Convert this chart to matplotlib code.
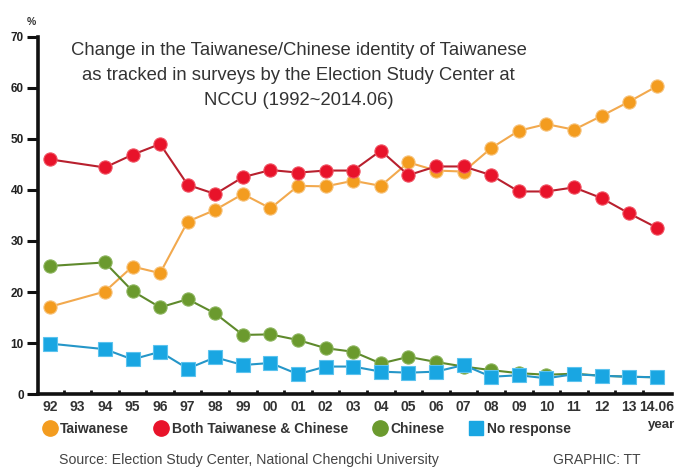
import matplotlib.pyplot as plt
from matplotlib.lines import Line2D
from matplotlib.ticker import FixedLocator

plt.rcParams["font.family"] = ["Liberation Sans", "DejaVu Sans"]

# survey years (1993 has no survey)
years = [1992, 1994, 1995, 1996, 1997, 1998, 1999, 2000, 2001, 2002, 2003,
         2004, 2005, 2006, 2007, 2008, 2009, 2010, 2011, 2012, 2013, 2014]
tick_years = list(range(1992, 2015))
tick_labels = ["92", "93", "94", "95", "96", "97", "98", "99", "00", "01", "02", "03",
               "04", "05", "06", "07", "08", "09", "10", "11", "12", "13", "14.06"]

taiwanese = [17.1, 20.1, 25.0, 23.7, 33.8, 36.1, 39.2, 36.4, 40.8, 40.7, 41.8,
             40.8, 45.4, 43.8, 43.6, 48.2, 51.6, 52.9, 51.8, 54.5, 57.3, 60.3]
both = [46.0, 44.4, 46.9, 49.0, 41.0, 39.2, 42.5, 43.9, 43.4, 43.8, 43.8,
        47.7, 42.9, 44.6, 44.6, 42.9, 39.7, 39.7, 40.5, 38.4, 35.4, 32.6]
chinese = [25.1, 25.8, 20.2, 17.0, 18.6, 15.8, 11.6, 11.7, 10.6, 9.0, 8.3,
           6.0, 7.3, 6.3, 5.4, 4.7, 4.1, 3.8, 4.0, 3.6, 3.4, 3.3]
no_response = [9.9, 8.8, 6.8, 8.3, 5.0, 7.2, 5.7, 6.1, 3.9, 5.4, 5.4,
               4.4, 4.2, 4.4, 5.7, 3.4, 3.7, 3.1, 3.9, 3.6, 3.4, 3.3]

c_orange = "#f39c1f"
c_red = "#e8132a"
c_green = "#6b9a2e"
c_blue = "#19a6e2"

fig = plt.figure(figsize=(6.76, 4.72), dpi=100)
ax = fig.add_axes([0.056, 0.165, 0.938, 0.757])

ax.plot(years, taiwanese, color="#f2a94e", lw=1.5, marker="o", ms=9.5,
        mfc=c_orange, mec="#f7c27a", mew=0.8, zorder=3)
ax.plot(years, both, color="#b8202e", lw=1.5, marker="o", ms=9.5,
        mfc=c_red, mec="#f05060", mew=0.8, zorder=4)
ax.plot(years, chinese, color="#5f8a2c", lw=1.5, marker="o", ms=9.5,
        mfc=c_green, mec="#8ab35a", mew=0.8, zorder=3)
ax.plot(years, no_response, color="#2596c8", lw=1.5, marker="s", ms=9.5,
        mfc=c_blue, mec="#5cc3ee", mew=0.8, zorder=5)

ax.set_xlim(1991.57, 2014.55)
ax.set_ylim(0, 70)

for side in ["top", "right"]:
    ax.spines[side].set_visible(False)
for side in ["left", "bottom"]:
    ax.spines[side].set_linewidth(2.6)
    ax.spines[side].set_color("#111111")

ax.set_yticks(range(0, 71, 10))
ax.tick_params(axis="y", direction="out", length=8, width=2.2, color="#111111",
               labelsize=8.5, labelcolor="#222222", pad=2)
for lab in ax.get_yticklabels():
    lab.set_fontweight("bold")

ax.xaxis.set_major_locator(FixedLocator(tick_years))
ax.set_xticklabels(tick_labels, fontsize=10, fontweight="bold", color="#333333")
ax.tick_params(axis="x", which="major", length=0, pad=4)
ax.xaxis.set_minor_locator(FixedLocator([y + 0.5 for y in tick_years[:-1]]))
ax.tick_params(axis="x", which="minor", direction="in", length=3, width=2, color="#111111")

fig.text(0.047, 0.948, "%", fontsize=7.5, fontweight="bold", color="#333333", ha="center")
fig.text(0.978, 0.093, "year", fontsize=9.5, fontweight="bold", color="#333333", ha="center")

fig.text(0.442, 0.912, "Change in the Taiwanese/Chinese identity of Taiwanese\n"
         "as tracked in surveys by the Election Study Center at\n"
         "NCCU (1992~2014.06)", fontsize=13.3, color="#333333", ha="center", va="top",
         linespacing=1.65)

handles = [
    Line2D([], [], ls="none", marker="o", ms=11, mfc=c_orange, mec=c_orange),
    Line2D([], [], ls="none", marker="o", ms=11, mfc=c_red, mec=c_red),
    Line2D([], [], ls="none", marker="o", ms=11, mfc=c_green, mec=c_green),
    Line2D([], [], ls="none", marker="s", ms=10, mfc=c_blue, mec=c_blue),
]
names = ["Taiwanese", "Both Taiwanese & Chinese", "Chinese", "No response"]
leg = fig.legend(handles, names, loc="center left", bbox_to_anchor=(0.047, 0.091),
                 ncol=4, frameon=False, handlelength=0.8, handletextpad=0.35,
                 columnspacing=1.9, prop={"weight": "bold", "size": 10})
for t in leg.get_texts():
    t.set_color("#333333")

fig.text(0.088, 0.017, "Source: Election Study Center, National Chengchi University",
         fontsize=10.2, color="#444444")
fig.text(0.818, 0.017, "GRAPHIC: TT", fontsize=10, color="#444444")

fig.savefig("out.png", dpi=100)
